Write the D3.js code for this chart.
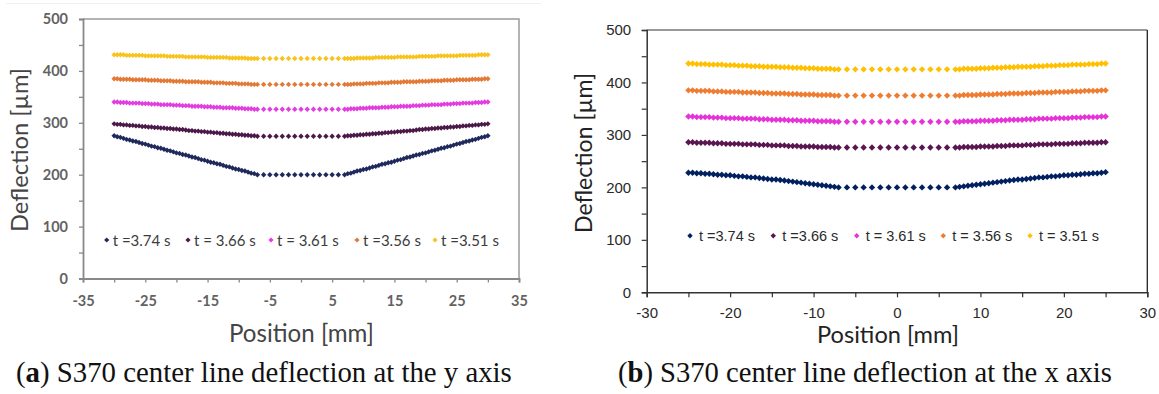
<!DOCTYPE html>
<html><head><meta charset="utf-8">
<script src="https://cdn.jsdelivr.net/npm/d3@7"></script>
<style>body{margin:0;background:#fff}svg{display:block}</style>
</head><body>
<svg id="c" width="1159" height="394"></svg>
<script>
// ---------------- DATA ----------------
const legendA = ["t =3.74 s", "t = 3.66 s", "t = 3.61 s", "t =3.56 s", "t =3.51 s"];
const legendB = ["t =3.74 s", "t =3.66 s", "t = 3.61 s", "t = 3.56 s", "t = 3.51 s"];
const colorsA = ["#1f2a5c", "#4b1a49", "#e23de0", "#e27a36", "#f7c31c"];
const colorsB = ["#002060", "#5a1650", "#e633d8", "#ef7d31", "#ffc000"];

const yTicks = [0, 50, 100, 150, 200, 250, 300, 350, 400, 450, 500];
const yLabels = [0, 100, 200, 300, 400, 500];
const xTicksA = [-35, -30, -25, -20, -15, -10, -5, 0, 5, 10, 15, 20, 25, 30, 35];
const xLabelsA = [-35, -25, -15, -5, 5, 15, 25, 35];
const xTicksB = [-30, -25, -20, -15, -10, -5, 0, 5, 10, 15, 20, 25, 30];
const xLabelsB = [-30, -20, -10, 0, 10, 20, 30];

// (a) positions [mm]
const posA = [-30,-29.5,-29,-28.5,-28,-27.5,-27,-26.5,-26,-25.5,-25,-24.5,-24,-23.5,-23,-22.5,-22,-21.5,-21,-20.5,-20,-19.5,-19,-18.5,-18,-17.5,-17,-16.5,-16,-15.5,-15,-14.5,-14,-13.5,-13,-12.5,-12,-11.5,-11,-10.5,-10,-9.5,-9,-8.5,-8,-7.5,-7,
 -6,-5,-4,-3,-2,-1,0,1,2,3,4,5,6,
 7,7.5,8,8.5,9,9.5,10,10.5,11,11.5,12,12.5,13,13.5,14,14.5,15,15.5,16,16.5,17,17.5,18,18.5,19,19.5,20,20.5,21,21.5,22,22.5,23,23.5,24,24.5,25,25.5,26,26.5,27,27.5,28,28.5,29,29.5,30];

// (a) deflection [µm]
const a374 = [275,273,272,270,268,267,265,264,262,260,259,257,255,254,252,251,249,247,246,244,242,241,239,238,236,234,233,231,229,228,226,224,223,221,220,218,216,215,213,211,210,208,207,205,203,202,200,
 200,200,200,200,200,200,200,200,200,200,200,200,200,
 200,202,203,205,207,208,210,211,213,215,216,218,220,221,223,224,226,228,229,231,233,234,236,238,239,241,242,244,246,247,249,251,252,254,255,257,259,260,262,264,265,267,268,270,272,273,275];
const a366 = [298,297,297,296,296,295,295,294,294,293,293,292,292,291,291,290,290,289,289,288,288,287,287,286,285,285,284,284,283,283,282,282,281,281,280,280,279,279,278,278,277,277,276,276,275,275,274,
 274,274,274,274,274,274,274,274,274,274,274,274,274,
 274,275,275,276,276,277,277,278,278,279,279,280,280,281,281,282,282,283,283,284,284,285,285,286,287,287,288,288,289,289,290,290,291,291,292,292,293,293,294,294,295,295,296,296,297,297,298];
const a361 = [340,340,339,339,339,338,338,338,338,337,337,337,336,336,336,335,335,335,335,334,334,334,333,333,333,332,332,332,332,331,331,331,330,330,330,329,329,329,329,328,328,328,327,327,327,326,326,
 326,326,326,326,326,326,326,326,326,326,326,326,326,
 326,326,327,327,327,328,328,328,329,329,329,329,330,330,330,331,331,331,332,332,332,332,333,333,333,334,334,334,335,335,335,335,336,336,336,337,337,337,338,338,338,338,339,339,339,340,340];
const a356 = [385,385,384,384,384,384,383,383,383,383,383,382,382,382,382,381,381,381,381,380,380,380,380,379,379,379,379,379,378,378,378,378,377,377,377,377,376,376,376,376,375,375,375,375,374,374,374,
 374,374,374,374,374,374,374,374,374,374,374,374,374,
 374,374,374,375,375,375,375,376,376,376,376,377,377,377,377,378,378,378,378,379,379,379,379,379,380,380,380,380,381,381,381,381,382,382,382,382,383,383,383,383,383,384,384,384,384,385,385];
const a351 = [431,431,431,431,430,430,430,430,430,430,429,429,429,429,429,429,429,428,428,428,428,428,428,427,427,427,427,427,427,427,426,426,426,426,426,426,426,425,425,425,425,425,425,424,424,424,424,
 424,424,424,424,424,424,424,424,424,424,424,424,424,
 424,424,424,424,425,425,425,425,425,425,426,426,426,426,426,426,426,427,427,427,427,427,427,427,428,428,428,428,428,428,429,429,429,429,429,429,429,430,430,430,430,430,430,431,431,431,431];

// (b) positions [mm]
const posB = [-25,-24.5,-24,-23.5,-23,-22.5,-22,-21.5,-21,-20.5,-20,-19.5,-19,-18.5,-18,-17.5,-17,-16.5,-16,-15.5,-15,-14.5,-14,-13.5,-13,-12.5,-12,-11.5,-11,-10.5,-10,-9.5,-9,-8.5,-8,-7.5,-7,
 -6,-5,-4,-3,-2,-1,0,1,2,3,4,5,6,
 7,7.5,8,8.5,9,9.5,10,10.5,11,11.5,12,12.5,13,13.5,14,14.5,15,15.5,16,16.5,17,17.5,18,18.5,19,19.5,20,20.5,21,21.5,22,22.5,23,23.5,24,24.5,25];

// (b) deflection [µm]
const b374 = [228,228,227,227,226,226,225,224,224,223,223,222,221,221,220,219,219,218,217,216,215,215,214,213,212,211,210,209,208,207,206,205,204,203,202,201,200,
 200,200,200,200,200,200,200,200,200,200,200,200,200,
 200,201,202,203,204,205,206,207,208,209,210,211,212,213,214,215,215,216,217,218,219,219,220,221,221,222,223,223,224,224,225,226,226,227,227,228,229];
const b366 = [286,286,285,285,285,285,284,284,284,283,283,283,283,282,282,282,282,281,281,281,280,280,280,280,279,279,279,278,278,278,278,277,277,277,277,276,276,
 276,276,276,276,276,276,276,276,276,276,276,276,276,
 276,276,277,277,277,277,278,278,278,278,279,279,279,280,280,280,280,281,281,281,282,282,282,282,283,283,283,283,284,284,284,285,285,285,285,286,286];
const b361 = [335,335,334,334,334,334,333,333,333,332,332,332,332,331,331,331,331,330,330,330,329,329,329,329,328,328,328,327,327,327,327,326,326,326,326,325,325,
 325,325,325,325,325,325,325,325,325,325,325,325,325,
 325,325,326,326,326,326,327,327,327,327,328,328,328,329,329,329,329,330,330,330,331,331,331,331,332,332,332,332,333,333,333,334,334,334,334,335,335];
const b356 = [385,385,384,384,384,384,383,383,383,382,382,382,382,381,381,381,381,380,380,380,379,379,379,379,378,378,378,377,377,377,377,376,376,376,376,375,375,
 375,375,375,375,375,375,375,375,375,375,375,375,375,
 375,375,376,376,376,376,377,377,377,377,378,378,378,379,379,379,379,380,380,380,381,381,381,381,382,382,382,382,383,383,383,384,384,384,384,385,385];
const b351 = [436,436,435,435,435,434,434,434,434,433,433,433,432,432,432,431,431,431,430,430,430,430,429,429,429,428,428,428,427,427,427,426,426,426,426,425,425,
 425,425,425,425,425,425,425,425,425,425,425,425,425,
 425,425,426,426,426,426,427,427,427,428,428,428,429,429,429,430,430,430,430,431,431,431,432,432,432,433,433,433,434,434,434,434,435,435,435,436,436];

const seriesA = [a374, a366, a361, a356, a351];
const seriesB = [b374, b366, b361, b356, b351];

// ---------------- DRAW ----------------
const svg = d3.select("#c");
const diamond = r => `M0,${-r}L${r},0L0,${r}L${-r},0Z`;

function fit(sel, target) {
  const w = sel.node().getComputedTextLength();
  const fs = parseFloat(sel.attr("font-size"));
  sel.attr("font-size", (fs * target / w).toFixed(2));
}

// faint frame of panel (a) screenshot
svg.append("line").attr("x1", 6).attr("x2", 541).attr("y1", 3.5).attr("y2", 3.5)
  .attr("stroke", "#f0f0f0").attr("stroke-width", 1);

// ===== Panel (a) =====
{
  const x = d3.scaleLinear().domain([-35, 35]).range([83, 519]);
  const y = d3.scaleLinear().domain([0, 500]).range([278.5, 19]);
  const g = svg.append("g");
  g.append("path").attr("d", `M${x(-35)},${y(500)}H${x(35)}V${y(0)}`)
    .attr("fill", "none").attr("stroke", "#9a9a9a").attr("stroke-width", 1.5);

  const ya = d3.axisLeft(y).tickValues(yTicks).tickSize(4).tickPadding(11)
    .tickFormat(d => yLabels.includes(d) ? d : "");
  const yg = g.append("g").attr("transform", `translate(${x(-35)},0)`).call(ya);
  const xa = d3.axisBottom(x).tickValues(xTicksA).tickSize(4).tickPadding(13)
    .tickFormat(d => xLabelsA.includes(d) ? d : "");
  const xg = g.append("g").attr("transform", `translate(0,${y(0)})`).call(xa);
  [yg, xg].forEach(a => {
    a.select(".domain").attr("stroke", "#888").attr("stroke-width", 1.8);
    a.selectAll(".tick line").attr("stroke", "#888").attr("stroke-width", 1.3);
    a.selectAll("text").attr("font-family", "Lato, 'Open Sans', sans-serif")
      .attr("font-size", 14.5).attr("font-weight", 700).attr("fill", "#626262");
  });

  seriesA.forEach((vals, s) => {
    g.append("g").selectAll("path").data(vals).join("path")
      .attr("transform", (v, i) => `translate(${x(posA[i])},${y(v)})`)
      .attr("d", diamond(2.7)).attr("fill", colorsA[s]);
  });

  const lx = [106.7, 188, 271, 357, 435];
  const lg = g.append("g");
  legendA.forEach((t, i) => {
    lg.append("path").attr("transform", `translate(${lx[i]},240)`).attr("d", diamond(2.6)).attr("fill", colorsA[i]);
    lg.append("text").attr("x", lx[i] + 6).attr("y", 245.5).text(t)
      .attr("font-family", "Lato, sans-serif").attr("font-size", 15).attr("fill", "#3c3c3c");
  });

  const yt = g.append("text").attr("transform", "translate(28,150) rotate(-90)")
    .attr("text-anchor", "middle").attr("font-family", "Lato, sans-serif")
    .attr("font-size", 24).attr("fill", "#444").text("Deflection [µm]");
  fit(yt, 164);
  const xt = g.append("text").attr("x", 301.5).attr("y", 341.5)
    .attr("text-anchor", "middle").attr("font-family", "Lato, sans-serif")
    .attr("font-size", 24).attr("fill", "#444").text("Position [mm]");
  fit(xt, 145);
}

// ===== Panel (b) =====
{
  const x = d3.scaleLinear().domain([-30, 30]).range([646.7, 1147.3]);
  const y = d3.scaleLinear().domain([0, 500]).range([292.3, 30]);
  const g = svg.append("g");
  g.append("line").attr("x1", x(-30)).attr("x2", x(30)).attr("y1", y(500)).attr("y2", y(500))
    .attr("stroke", "#777").attr("stroke-width", 1.3);
  g.append("line").attr("x1", x(30)).attr("x2", x(30)).attr("y1", y(500)).attr("y2", y(0))
    .attr("stroke", "#222").attr("stroke-width", 1.3);

  const ya = d3.axisLeft(y).tickValues(yTicks).tickSize(5).tickPadding(10.5)
    .tickFormat(d => yLabels.includes(d) ? d : "");
  const yg = g.append("g").attr("transform", `translate(${x(-30)},0)`).call(ya);
  const xa = d3.axisBottom(x).tickValues(xTicksB).tickSize(5).tickPadding(10.5)
    .tickFormat(d => xLabelsB.includes(d) ? d : "");
  const xg = g.append("g").attr("transform", `translate(0,${y(0)})`).call(xa);
  [yg, xg].forEach(a => {
    a.select(".domain").attr("stroke", "#333").attr("stroke-width", 1.5);
    a.selectAll(".tick line").attr("stroke", "#333").attr("stroke-width", 1.2);
    a.selectAll("text").attr("font-family", "'Liberation Sans', Arial, sans-serif")
      .attr("font-size", 15).attr("fill", "#2a2a2a");
  });

  seriesB.forEach((vals, s) => {
    g.append("g").selectAll("path").data(vals).join("path")
      .attr("transform", (v, i) => `translate(${x(posB[i])},${y(v)})`)
      .attr("d", diamond(3.2)).attr("fill", colorsB[s]);
  });

  const lx = [690, 773.3, 856.7, 943.3, 1030];
  legendB.forEach((t, i) => {
    g.append("path").attr("transform", `translate(${lx[i]},235.7)`).attr("d", diamond(2.7)).attr("fill", colorsB[i]);
    g.append("text").attr("x", lx[i] + 9).attr("y", 241).text(t)
      .attr("font-family", "'Liberation Sans', Arial, sans-serif").attr("font-size", 14.5).attr("fill", "#2a2a2a");
  });

  const yt = g.append("text").attr("transform", "translate(592,153) rotate(-90)")
    .attr("text-anchor", "middle").attr("font-family", "Lato, sans-serif")
    .attr("font-size", 24).attr("fill", "#222").text("Deflection [µm]");
  fit(yt, 160);
  const xt = g.append("text").attr("x", 888).attr("y", 342.5)
    .attr("text-anchor", "middle").attr("font-family", "Lato, sans-serif")
    .attr("font-size", 24).attr("fill", "#222").text("Position [mm]");
  fit(xt, 142);
}

// ===== Captions =====
function caption(x0, letter, rest, width) {
  const t = svg.append("text").attr("x", x0).attr("y", 382)
    .attr("font-family", "'Liberation Serif', 'DejaVu Serif', serif")
    .attr("font-size", 23).attr("fill", "#111");
  t.append("tspan").text("(");
  t.append("tspan").attr("font-weight", 700).text(letter);
  t.append("tspan").text(") " + rest);
  fit(t, width);
}
caption(16, "a", "S370 center line deflection at the y axis", 496);
caption(618, "b", "S370 center line deflection at the x axis", 494);
</script>
</body></html>
